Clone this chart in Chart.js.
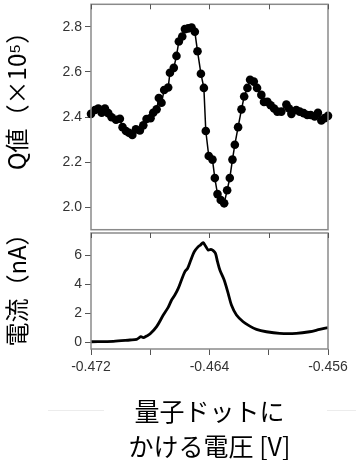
<!DOCTYPE html>
<html><head><meta charset="utf-8">
<script src="https://cdn.jsdelivr.net/npm/chart.js@4.4.1/dist/chart.umd.min.js"></script>
<style>
html,body{margin:0;padding:0;background:#fff;overflow:hidden;width:356px;height:460px}
#top{position:absolute;left:0;top:0;width:356px;height:234px}
#bot{position:absolute;left:0;top:232px;width:356px;height:232px}
.rule{position:absolute;height:1px;background:#ececec;top:410px}
</style></head><body>
<div class="rule" style="left:48px;width:56px"></div>
<div class="rule" style="left:327px;width:29px"></div>
<div id="top"><canvas id="c1"></canvas></div>
<div id="bot"><canvas id="c2"></canvas></div>
<script>
// ---- data ----
const qVoltage = [-0.47200,-0.47173,-0.47151,-0.47128,-0.47106,-0.47083,-0.47061,-0.47031,-0.47005,-0.46987,
 -0.46964,-0.46944,-0.46921,-0.46897,-0.46870,-0.46847,-0.46825,-0.46798,-0.46780,-0.46757,
 -0.46742,-0.46724,-0.46706,-0.46679,-0.46667,-0.46641,-0.46623,-0.46607,-0.46584,-0.46566,
 -0.46544,-0.46521,-0.46499,-0.46481,-0.46458,-0.46438,-0.46425,-0.46405,-0.46380,-0.46364,
 -0.46346,-0.46324,-0.46301,-0.46281,-0.46263,-0.46245,-0.46229,-0.46207,-0.46184,-0.46166,
 -0.46144,-0.46126,-0.46101,-0.46079,-0.46050,-0.46032,-0.46009,-0.45987,-0.45964,-0.45942,
 -0.45915,-0.45881,-0.45863,-0.45847,-0.45814,-0.45791,-0.45764,-0.45740,-0.45717,-0.45690,
 -0.45668,-0.45645,-0.45623,-0.45600];
const qValue = [2.414,2.431,2.438,2.419,2.438,2.417,2.399,2.388,2.392,2.355,
 2.338,2.330,2.320,2.345,2.340,2.363,2.391,2.395,2.419,2.434,
 2.484,2.463,2.520,2.531,2.596,2.618,2.671,2.735,2.757,2.790,
 2.793,2.797,2.778,2.692,2.592,2.529,2.338,2.227,2.211,2.129,
 2.058,2.032,2.017,2.075,2.129,2.211,2.277,2.355,2.434,2.491,
 2.529,2.565,2.557,2.529,2.498,2.467,2.467,2.452,2.438,2.424,
 2.424,2.455,2.438,2.414,2.431,2.424,2.417,2.409,2.409,2.402,
 2.419,2.385,2.395,2.405];
const iVoltage = [-0.47200,-0.47049,-0.46937,-0.46892,-0.46863,-0.46847,-0.46825,-0.46802,-0.46757,-0.46712,
 -0.46679,-0.46656,-0.46634,-0.46611,-0.46589,-0.46566,-0.46548,-0.46526,-0.46503,-0.46476,
 -0.46461,-0.46443,-0.46427,-0.46409,-0.46391,-0.46375,-0.46360,-0.46346,-0.46330,-0.46301,
 -0.46274,-0.46252,-0.46218,-0.46173,-0.46128,-0.46083,-0.46016,-0.45926,-0.45814,-0.45724,
 -0.45656,-0.45600];
const iCurrent = [0.02,0.05,0.14,0.18,0.37,0.30,0.41,0.55,1.06,1.86,
 2.39,2.90,3.24,3.70,4.28,4.85,5.08,5.66,6.23,6.58,
 6.69,6.85,6.62,6.35,6.39,6.30,6.12,5.54,4.97,4.28,
 3.36,2.55,1.86,1.40,1.10,0.87,0.71,0.60,0.60,0.71,
 0.87,0.99];
const xTicks = [-0.472,-0.468,-0.464,-0.460,-0.456];
const xTickLabels = ['-0.472','','-0.464','','-0.456'];
const qTicks = [2.0,2.2,2.4,2.6,2.8];
const iTicks = [0,2,4,6];
const qTitle = 'Q値（×10⁵）';
const iTitle = '電流（nA）';
const xTitle = ['量子ドットに','かける電圧 [V]'];

// ---- styles ----
const AX = '#8a8a8a', TK = '#555', LBL = '#333';
const tickFont = {family:'"Liberation Sans", Arial, sans-serif', size:14};
const titleFamily = '"Noto Sans CJK JP", sans-serif';

const frame = {
  id:'frame',
  afterDraw(chart, args, opts){
    const a = chart.chartArea, ctx = chart.ctx, xs = chart.scales.x;
    ctx.save();
    ctx.strokeStyle = AX; ctx.lineWidth = 1.5;
    ctx.strokeRect(a.left, a.top, a.right - a.left, a.bottom - a.top);
    ctx.strokeStyle = TK; ctx.lineWidth = 1;
    xTicks.forEach(v => {
      const px = Math.round(xs.getPixelForValue(v)) + 0.5;
      ctx.beginPath(); ctx.moveTo(px, a.top); ctx.lineTo(px, a.top + 5); ctx.stroke();
    });
    // vertical axis title
    ctx.translate(opts.x, opts.y);
    ctx.rotate(-Math.PI/2);
    ctx.fillStyle = '#000';
    ctx.font = opts.size + 'px ' + titleFamily;
    ctx.textAlign = 'center'; ctx.textBaseline = 'middle';
    ctx.fillText(opts.text, 0, 0);
    ctx.restore();
  }
};
const setTicks = arr => scale => { scale.ticks = arr.map(v => ({value:v})); };
const fitY = s => { s.width = 91; s.paddingTop = 0; s.paddingBottom = 0; };
const fitX = s => { s.height = 115; s.paddingLeft = 0; s.paddingRight = 0; };

new Chart(document.getElementById('c1'), {
  type:'line',
  data:{datasets:[{
    data: qVoltage.map((x,i)=>({x, y:qValue[i]})),
    borderColor:'#000', borderWidth:1.5, backgroundColor:'#000',
    pointRadius:4.3, pointBorderWidth:0, pointBackgroundColor:'#000', tension:0, clip:false
  }]},
  options:{
    responsive:true, maintainAspectRatio:false, animation:false,
    layout:{padding:{top:1, right:28, bottom:1, left:0}},
    plugins:{legend:{display:false}, tooltip:{enabled:false},
             frame:{text:qTitle, x:17, y:95, size:24}},
    scales:{
      x:{type:'linear', min:-0.472, max:-0.456, display:false},
      y:{min:1.9, max:2.9, afterBuildTicks:setTicks(qTicks), afterFit:fitY,
         border:{display:false},
         grid:{drawOnChartArea:false, tickLength:6, color:TK},
         ticks:{color:LBL, font:tickFont, padding:3, callback:v=>v.toFixed(1)}}
    }
  },
  plugins:[frame]
});

new Chart(document.getElementById('c2'), {
  type:'line',
  data:{datasets:[{
    data: iVoltage.map((x,i)=>({x, y:iCurrent[i]})),
    borderColor:'#000', borderWidth:2.8, pointRadius:0, tension:0.3, fill:false
  }]},
  options:{
    responsive:true, maintainAspectRatio:false, animation:false,
    layout:{padding:{top:1, right:28, bottom:0, left:0}},
    plugins:{legend:{display:false}, tooltip:{enabled:false},
             frame:{text:iTitle, x:17, y:52, size:24}},
    scales:{
      x:{type:'linear', min:-0.472, max:-0.456, afterBuildTicks:setTicks(xTicks), afterFit:fitX,
         border:{display:false},
         grid:{drawOnChartArea:false, tickLength:6, color:TK},
         ticks:{color:LBL, font:tickFont, padding:4, maxRotation:0, autoSkip:false,
                callback:(v,i)=>xTickLabels[i]},
         title:{display:true, text:xTitle, color:'#000',
                font:{family:titleFamily, size:25, lineHeight:1.4}, padding:{top:0,bottom:0}}},
      y:{min:-0.48, max:7.52, afterBuildTicks:setTicks(iTicks), afterFit:fitY,
         border:{display:false},
         grid:{drawOnChartArea:false, tickLength:6, color:TK},
         ticks:{color:LBL, font:tickFont, padding:3}}
    }
  },
  plugins:[frame]
});
</script>
</body></html>
